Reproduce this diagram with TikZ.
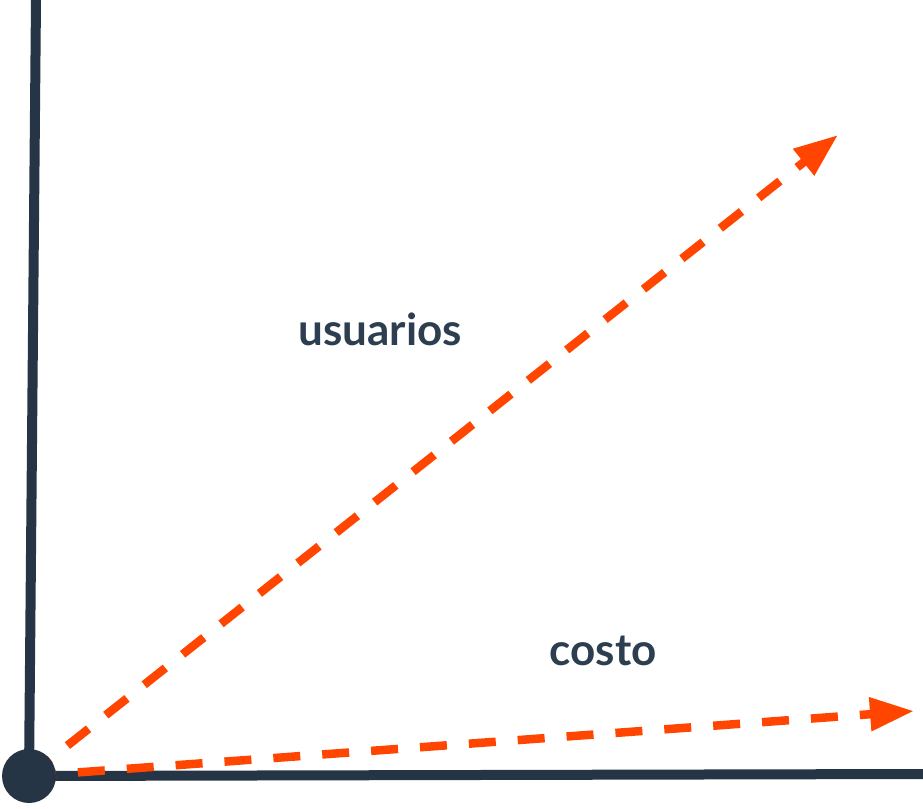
\documentclass[tikz,border=0pt]{standalone}
\usepackage{fontspec}
\setmainfont{Lato}
\usetikzlibrary{arrows.meta}
\definecolor{axiscol}{HTML}{253545}
\definecolor{textcol}{HTML}{2C3E50}
\definecolor{arrcol}{HTML}{FF4500}
\tikzset{
  axisline/.style={draw=axiscol, line width=10pt},
  vecline/.style={draw=arrcol, line width=8.5pt, dash pattern=on 27pt off 22pt,
    -{Triangle[length=44pt,width=32pt]}},
  lbl/.style={text=textcol, font=\fontsize{44}{50}\selectfont\bfseries, anchor=base, inner sep=0pt}
}
\begin{document}
\begin{tikzpicture}[x=1pt,y=-1pt]
\useasboundingbox (0,0) rectangle (923,808);
\coordinate (ytop) at (36,0);
\coordinate (o) at (29,776);
\coordinate (xend) at (923,774);
\coordinate (u) at (838,135);
\coordinate (c) at (914,711);
\draw[axisline] (ytop) -- (o) -- (xend);
\draw[vecline] (o) -- (u);
\draw[vecline] (o) -- (c);
\fill[axiscol] (o) circle (27);
\node[lbl] (lu) at (380,345) {usuarios};
\node[lbl] (lc) at (603,665) {costo};
\end{tikzpicture}
\end{document}
